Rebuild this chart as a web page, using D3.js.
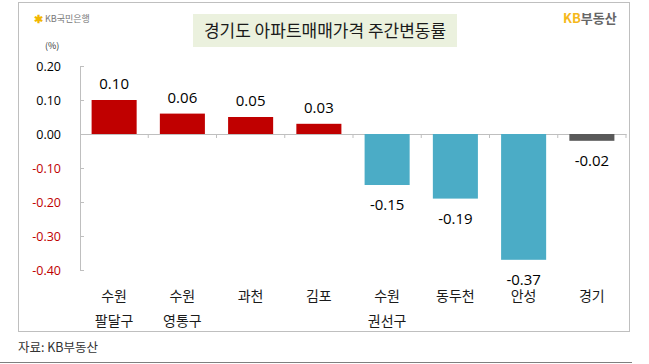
<!DOCTYPE html>
<html>
<head>
<meta charset="utf-8">
<script src="https://cdn.jsdelivr.net/npm/d3@7"></script>
<style>
  body { margin: 0; background: #fff; }
  svg { display: block; }
</style>
</head>
<body>
<div id="wrapper"></div>
<script>
// data
const regions = ["수원 팔달구", "수원 영통구", "과천", "김포", "수원 권선구", "동두천", "안성", "경기"]
const changes = [0.10, 0.06, 0.05, 0.03, -0.15, -0.19, -0.37, -0.02]
const yTicks = [0.20, 0.10, 0.00, -0.10, -0.20, -0.30, -0.40]

const dataset = regions.map((r, i) => ({ region: r, value: changes[i] }))

const dimensions = { width: 649, height: 364 }

const svg = d3.select("#wrapper")
  .append("svg")
  .attr("width", dimensions.width)
  .attr("height", dimensions.height)

const font = "'Noto Sans CJK KR', 'Noto Sans', sans-serif"
// plain hyphen instead of d3's unicode minus
const fmt = v => d3.format(".2f")(v).replace("−", "-")

// frame
svg.append("rect")
  .attr("x", 18.5).attr("y", 2.5)
  .attr("width", 611).attr("height", 329)
  .attr("fill", "none").attr("stroke", "#bfbfbf")

// scales
const xScale = d3.scaleBand()
  .domain(regions)
  .range([80, 626])
  .paddingInner(0.34)
  .paddingOuter(0.17)

const yScale = d3.scaleLinear()
  .domain([0.2, -0.4])
  .range([66, 270])

// title
svg.append("rect")
  .attr("x", 193).attr("y", 14)
  .attr("width", 264).attr("height", 33)
  .attr("fill", "#ebf1de")
svg.append("text")
  .attr("x", 325).attr("y", 37)
  .attr("text-anchor", "middle")
  .attr("font-family", font)
  .attr("font-size", 17)
  .attr("fill", "#1a1a1a")
  .text("경기도 아파트매매가격 주간변동률")

// KB국민은행 logo
svg.append("text")
  .attr("x", 34).attr("y", 23)
  .attr("font-family", font)
  .attr("font-size", 11)
  .attr("font-weight", "bold")
  .attr("fill", "#f2b700")
  .text("✱")
svg.append("text")
  .attr("x", 45).attr("y", 22)
  .attr("font-family", font)
  .attr("font-size", 9)
  .attr("fill", "#777")
  .text("KB국민은행")

// KB부동산 logo
const kb = svg.append("text")
  .attr("x", 563).attr("y", 23)
  .attr("font-family", font)
  .attr("font-size", 13)
  .attr("font-weight", "bold")
kb.append("tspan").attr("fill", "#f5b81c").text("KB")
kb.append("tspan").attr("fill", "#666").text("부동산")

// unit
svg.append("text")
  .attr("x", 45).attr("y", 49)
  .attr("font-family", font)
  .attr("font-size", 9)
  .attr("fill", "#333")
  .text("(%)")

// y axis
const yAxis = svg.append("g")
  .attr("transform", "translate(80,0)")
  .call(d3.axisRight(yScale).tickValues(yTicks).tickSize(4).tickFormat(""))
yAxis.select(".domain").attr("stroke", "#bfbfbf")
yAxis.selectAll(".tick line").attr("stroke", "#bfbfbf")

svg.append("g")
  .selectAll("text")
  .data(yTicks)
  .join("text")
  .attr("x", 61)
  .attr("y", d => yScale(d) + 4.5)
  .attr("text-anchor", "end")
  .attr("font-family", "'Open Sans', sans-serif")
  .attr("font-size", 12.5)
  .attr("fill", d => d < 0 ? "#c00000" : "#000")
  .text(fmt)

// zero line with category ticks
const zeroAxis = svg.append("g")
  .attr("transform", `translate(0,${yScale(0)})`)
  .call(d3.axisBottom(xScale).tickSize(0).tickFormat(""))
zeroAxis.select(".domain").attr("stroke", "#bfbfbf")
svg.append("g")
  .selectAll("line")
  .data(regions.slice(1).concat(["end"]))
  .join("line")
  .attr("x1", (d, i) => 80 + xScale.step() * (i + 1))
  .attr("x2", (d, i) => 80 + xScale.step() * (i + 1))
  .attr("y1", yScale(0))
  .attr("y2", yScale(0) + 4)
  .attr("stroke", "#bfbfbf")

// bars
const colorOf = d => d.region === "경기" ? "#595959" : (d.value >= 0 ? "#c00000" : "#4bacc6")

svg.append("g")
  .selectAll("rect")
  .data(dataset)
  .join("rect")
  .attr("x", d => xScale(d.region))
  .attr("y", d => yScale(Math.max(0, d.value)))
  .attr("width", xScale.bandwidth())
  .attr("height", d => Math.abs(yScale(d.value) - yScale(0)))
  .attr("fill", colorOf)

// category labels
svg.append("g")
  .selectAll("text")
  .data(dataset)
  .join("text")
  .attr("x", d => xScale(d.region) + xScale.bandwidth() / 2)
  .attr("y", 301)
  .attr("text-anchor", "middle")
  .attr("font-family", font)
  .attr("font-size", 14)
  .attr("fill", "#1a1a1a")
  .each(function(d) {
    const parts = d.region.split(" ")
    d3.select(this).selectAll("tspan")
      .data(parts)
      .join("tspan")
      .attr("x", xScale(d.region) + xScale.bandwidth() / 2)
      .attr("dy", (p, i) => i === 0 ? 0 : 25)
      .text(p => p)
  })

// value labels
svg.append("g")
  .selectAll("text")
  .data(dataset)
  .join("text")
  .attr("x", d => xScale(d.region) + xScale.bandwidth() / 2)
  .attr("y", d => d.value >= 0 ? yScale(d.value) - 11 : yScale(d.value) + 25)
  .attr("text-anchor", "middle")
  .attr("font-family", "'Open Sans', sans-serif")
  .attr("font-size", 15)
  .attr("font-weight", 500)
  .attr("fill", "#000")
  .text(d => fmt(d.value))

// source and bottom rule
svg.append("text")
  .attr("x", 18).attr("y", 352)
  .attr("font-family", font)
  .attr("font-size", 12.5)
  .attr("fill", "#333")
  .text("자료: KB부동산")
svg.append("line")
  .attr("x1", 0).attr("x2", 632)
  .attr("y1", 362.5).attr("y2", 362.5)
  .attr("stroke", "#7f7f7f")
</script>
</body>
</html>
